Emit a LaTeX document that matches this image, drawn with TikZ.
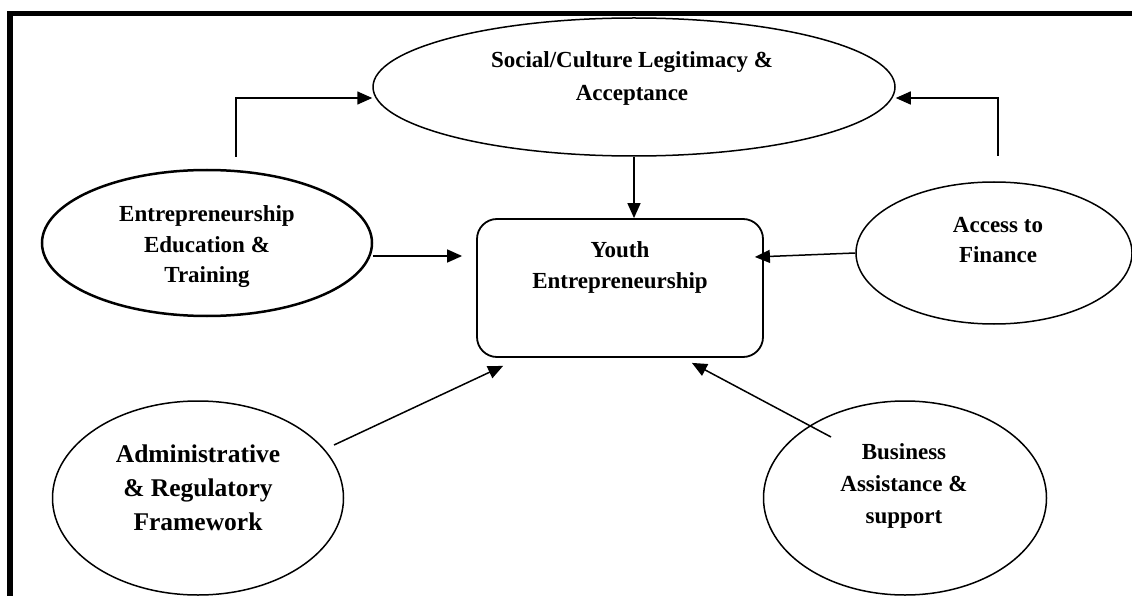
\documentclass[tikz,border=0pt]{standalone}
\usepackage{fontspec}
\setmainfont{Liberation Serif}
\usetikzlibrary{shapes.geometric,arrows.meta}
\begin{document}
\begin{tikzpicture}[x=1pt,y=-1pt,
  ell/.style={draw, ellipse, inner sep=0pt, line width=1.5pt},
  lbl/.style={align=center, font=\fontsize{23}{31}\selectfont\bfseries, inner sep=0pt},
  arr/.style={line width=1.5pt, -{Triangle[length=15pt,width=13pt]}}]
\useasboundingbox (0,0) rectangle (1132,596);
\clip (0,0) rectangle (1132,596);
% frame (cropped)
\draw[line width=5.5pt] (10,620) -- (10,13.5) -- (1150,13.5);
% shapes
\node[ell, minimum width=522pt, minimum height=138pt] (soc) at (634,87) {};
\node[ell, line width=2.5pt, minimum width=330pt, minimum height=146pt] (ent) at (207,243) {};
\node[ell, minimum width=276pt, minimum height=142pt] (acc) at (994,253) {};
\node[draw, rounded corners=20pt, line width=1.8pt, minimum width=286pt, minimum height=138pt, inner sep=0pt] (youth) at (620,288) {};
\node[ell, minimum width=291pt, minimum height=194pt] (adm) at (198,498) {};
\node[ell, minimum width=283pt, minimum height=194pt] (bus) at (905,498) {};
% texts
\node[lbl, font=\fontsize{23}{33}\selectfont\bfseries] (soc-t) at (632,78) {Social/Culture Legitimacy \&\\Acceptance};
\node[lbl, font=\fontsize{23}{30.5}\selectfont\bfseries] (ent-t) at (207,247) {Entrepreneurship\\Education \&\\Training};
\node[lbl] (youth-t) at (620,267) {Youth\\Entrepreneurship};
\node[lbl, font=\fontsize{23}{30}\selectfont\bfseries] (acc-t) at (998,240) {Access to\\Finance};
\node[lbl, font=\fontsize{25.5}{34}\selectfont\bfseries] (adm-t) at (198,488) {Administrative\\\& Regulatory\\Framework};
\node[lbl, font=\fontsize{23}{32}\selectfont\bfseries] (bus-t) at (904,486) {Business\\Assistance \&\\support};
% free ends
\coordinate (ent-up) at (236,157);
\coordinate (acc-up) at (998,156);
\coordinate (adm-out) at (334,445);
\coordinate (bus-out) at (831,437);
% connectors
\draw[arr] (ent-up) |- ([yshift=-11pt]soc.west);
\draw[arr] (acc-up) |- ([yshift=-11pt]soc.east);
\draw[arr] (soc.south) -- (soc.south |- youth.north);
\draw[arr, shorten >=14pt] ([yshift=-13pt]ent.east) -- ([yshift=-13pt]ent.east -| youth.west);
\draw[arr] (acc.west) -- ([shift={(-9pt,31pt)}]youth.east);
\draw[arr] (adm-out) -- ([shift={(27pt,-8pt)}]youth.south west);
\draw[arr] (bus-out) -- ([shift={(-72pt,-5pt)}]youth.south east);
\end{tikzpicture}
\end{document}
